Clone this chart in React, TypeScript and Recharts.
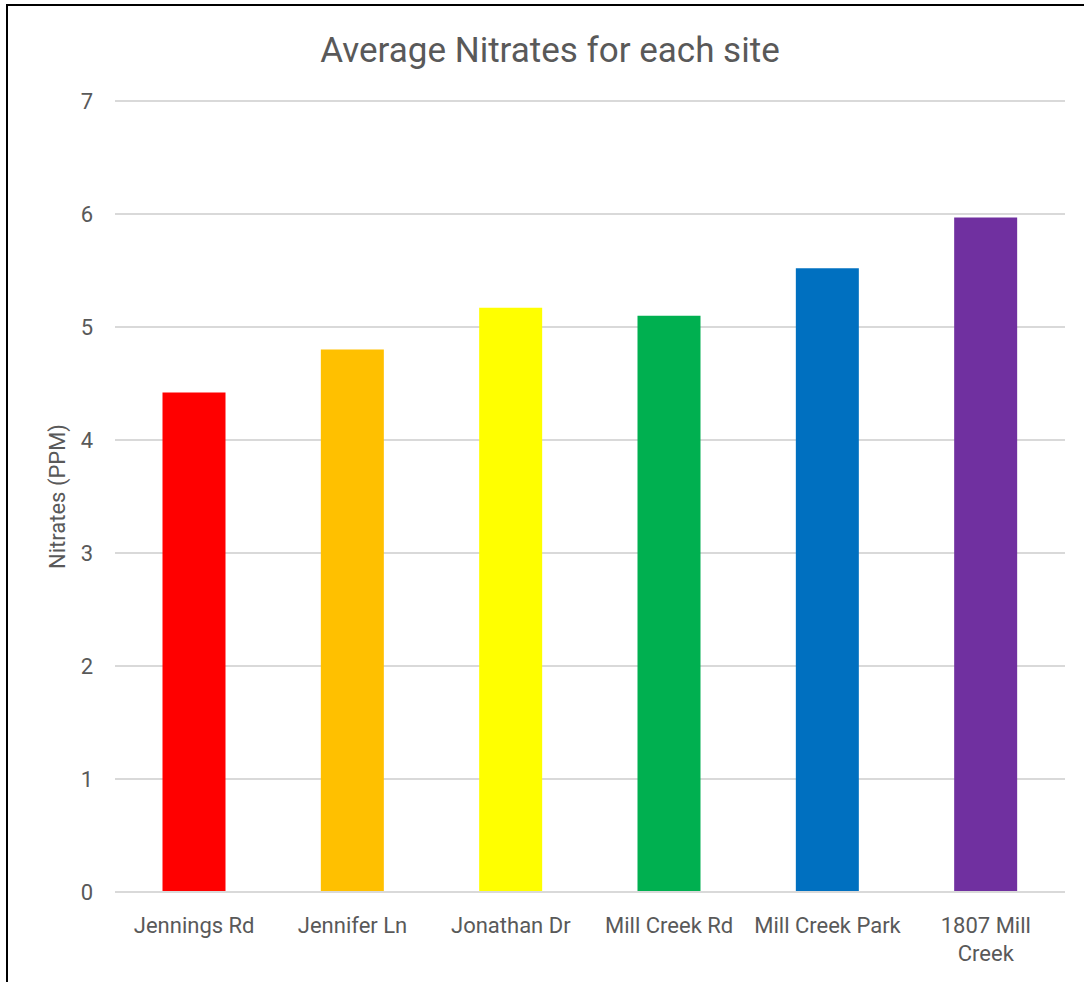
import { Bar, BarChart, CartesianGrid, Cell, Label, XAxis, YAxis } from "recharts";

const sites = [
  "Jennings Rd",
  "Jennifer Ln",
  "Jonathan Dr",
  "Mill Creek Rd",
  "Mill Creek Park",
  "1807 Mill Creek",
];
// how each site name is broken over lines under the axis
const siteLabelLines = [
  ["Jennings Rd"],
  ["Jennifer Ln"],
  ["Jonathan Dr"],
  ["Mill Creek Rd"],
  ["Mill Creek Park"],
  ["1807 Mill", "Creek"],
];
const nitrates = [4.42, 4.8, 5.17, 5.1, 5.52, 5.97];
const barColors = ["#FF0000", "#FFC000", "#FFFF00", "#00B050", "#0070C0", "#7030A0"];
const yTicks = [0, 1, 2, 3, 4, 5, 6, 7];

const data = sites.map((site, i) => ({ site, value: nitrates[i] }));

const FONT = "Roboto, 'Noto Sans', sans-serif";
const INK = "#595959";

function SiteTick(props: any) {
  const { x, y, index } = props;
  const lines = siteLabelLines[index] ?? [props.payload.value];
  return (
    <text x={x} y={y} textAnchor="middle" fill={INK} fontSize={22} fontFamily={FONT}>
      {lines.map((line: string, i: number) => (
        <tspan key={i} x={x} dy={i === 0 ? 16 : 28}>
          {line}
        </tspan>
      ))}
    </text>
  );
}

export default function App() {
  return (
    <div style={{ position: "relative", width: 1087, height: 982, background: "#fff", fontFamily: FONT }}>
      <style>{"body{margin:0}"}</style>
      <div
        style={{
          position: "absolute",
          left: 6,
          top: 4,
          width: 1078,
          height: 978,
          borderLeft: "2px solid #000",
          borderTop: "2px solid #000",
          boxSizing: "border-box",
        }}
      />
      <div
        style={{
          position: "absolute",
          top: 31,
          left: 0,
          width: 1100,
          textAlign: "center",
          fontSize: 35,
          lineHeight: "40px",
          color: INK,
        }}
      >
        Average Nitrates for each site
      </div>
      <div style={{ position: "absolute", left: 0, top: 0 }}>
        <BarChart
          width={1087}
          height={982}
          data={data}
          margin={{ top: 101, right: 22, bottom: 0, left: 0 }}
          barCategoryGap="30%"
        >
          <CartesianGrid vertical={false} stroke="#D9D9D9" strokeWidth={2} />
          <XAxis
            dataKey="site"
            height={90}
            tickLine={false}
            axisLine={{ stroke: "#D9D9D9", strokeWidth: 2 }}
            tick={<SiteTick />}
            tickMargin={19}
            interval={0}
          />
          <YAxis
            width={115}
            domain={[0, 7]}
            ticks={yTicks}
            tickLine={false}
            axisLine={false}
            tickSize={0}
            tickMargin={22}
            tick={{ fill: INK, fontSize: 22, fontFamily: FONT }}
          >
            <Label
              value="Nitrates (PPM)"
              angle={-90}
              position="center"
              fill={INK}
              fontSize={22}
              fontFamily={FONT}
            />
          </YAxis>
          <Bar dataKey="value" isAnimationActive={false}>
            {data.map((d, i) => (
              <Cell key={d.site} fill={barColors[i]} />
            ))}
          </Bar>
        </BarChart>
      </div>
    </div>
  );
}
